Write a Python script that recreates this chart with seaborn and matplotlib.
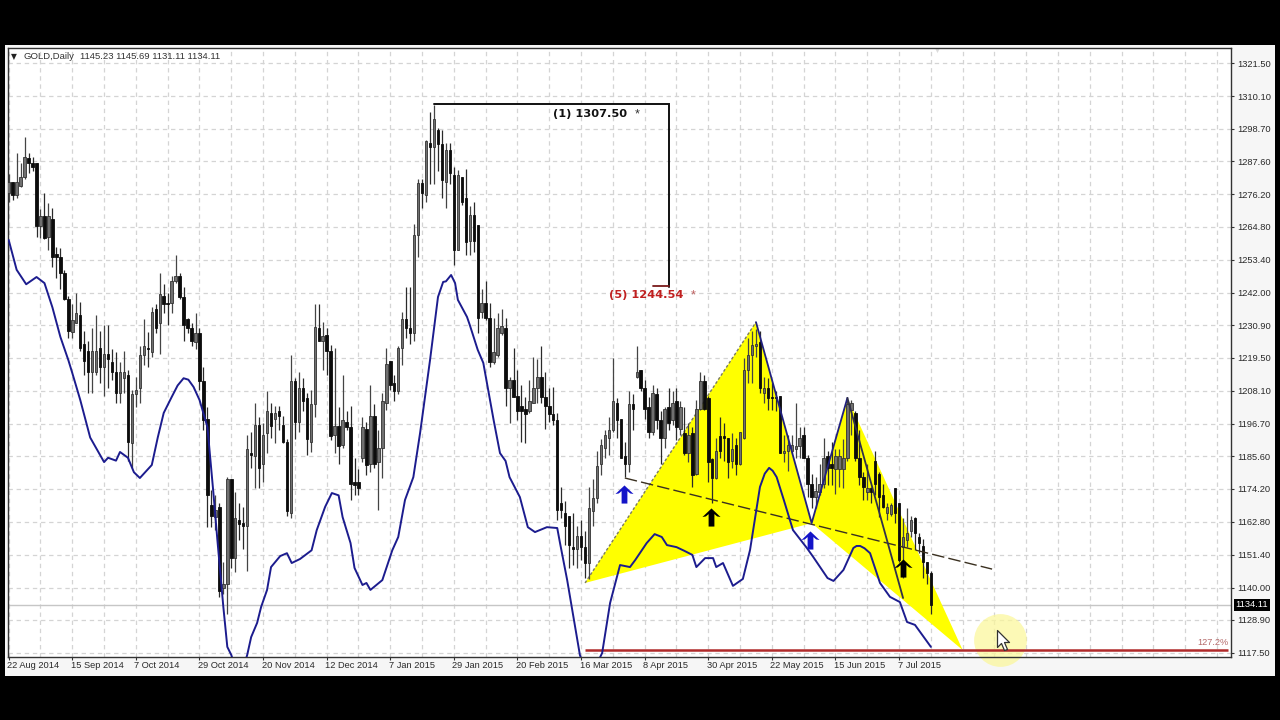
import numpy as np
import pandas as pd
import seaborn as sns
import matplotlib
matplotlib.use("Agg")
import matplotlib.pyplot as plt
from matplotlib.path import Path
from matplotlib.patches import Rectangle, Polygon
from matplotlib.transforms import ScaledTranslation

open_ = [
1276.5,1280.5,1276,1279,1282,1288.5,1287,1287,1265,1268.5,
1261.5,1267.5,1255.5,1254.5,1249,1240,1228.5,1231.5,1234.5,1224.5,
1222,1214.5,1214.5,1223,1216.5,1221,1218,1214.5,1207.5,1212.5,
1213.5,1190,1207,1209,1220.5,1223,1221.5,1236.5,1231.5,1241,
1238.5,1238.5,1246,1248,1240.5,1233,1230,1225,1228,1211.5,
1198.5,1168.5,1164.5,1168,1140,1141.5,1177.5,1150.5,1163.5,1162.5,
1161.5,1186.5,1185.5,1196.5,1183,1193.5,1200.5,1198.5,1201,1196.5,
1190.5,1166,1211.5,1197.5,1209,1205.5,1190.5,1203.5,1230,1225.5,
1227.5,1222,1193,1196,1189.5,1197.5,1195.5,1176.5,1176.5,1185,
1195,1183,1199.5,1183.5,1188.5,1204,1218.5,1211,1208,1223,
1233,1230,1228,1262,1280,1276,1294,1292.5,1298.5,1293.5,
1280.5,1291.5,1282.8,1257,1282,1275,1260,1269,1265.5,1235.5,
1238.5,1233.5,1218,1220.5,1228,1230,1209,1212,1206.5,1203,
1202,1201,1204,1209,1213,1206,1203,1200,1198,1169.5,
1166,1165,1154,1153.5,1158,1154,1148.5,1166.5,1171,1183,
1188.5,1192,1194.5,1204,1198.5,1185.5,1183,1203.5,1213,1215.5,
1209,1202.5,1194,1207,1198,1192,1202.5,1198,1204.5,1195,
1193.5,1186.5,1193.5,1179.5,1202,1211.5,1205.5,1184.5,1178,1192.5,
1192.5,1192,1184,1189.5,1183,1192,1215.5,1220.5,1223.5,1225,
1207.5,1209,1206,1206,1206.5,1186.5,1187.5,1187.5,1188,1189,
1193,1185,1176,1171.5,1173,1176,1185.5,1183,1181,1181,
1181,1185,1201.5,1200.5,1185,1178.5,1173,1174.5,1184,1179.5,
1172,1166,1165.5,1174.5,1169.5,1154,1156.5,1159.5,1164,1157.5,
1154.5,1149,1145.23]
high = [
1283,1280.5,1290.5,1287,1296,1290.5,1289,1287,1271,1276.5,
1273,1271.5,1258,1257.5,1250,1241,1238,1242,1239,1229,
1225.5,1230,1234.5,1229,1231,1231,1222.5,1221.5,1218,1222,
1215.5,1208.5,1213,1223.5,1233,1228.5,1237,1238,1249,1245,
1242,1248,1255,1249,1244,1233.5,1231.5,1235,1230,1216.5,
1202.5,1174,1172,1169.5,1149,1178.5,1177.5,1173,1169.5,1168,
1193,1194,1204,1199,1197,1208,1204,1203,1203,1199.5,
1191.5,1220.5,1212.5,1214.5,1212.5,1207.5,1208.5,1238,1238,1232,
1230,1224,1223,1202.5,1213.5,1201,1203,1185,1181,1199,
1197.5,1210,1203.5,1194.5,1207.5,1223,1218.5,1213.5,1223.5,1235.5,
1244,1244,1266,1281.5,1281.5,1295,1304.5,1307,1299,1298.5,
1294,1294,1285.5,1284.5,1282,1285,1272,1273.5,1265.5,1243.5,
1246,1238.5,1233.5,1235,1236.5,1233.5,1213,1223,1215.5,1210,
1206,1212,1220,1219,1223.5,1214.5,1209,1209.5,1200.5,1175,
1170,1165,1166,1161.5,1163.5,1159.5,1175,1177.5,1187.5,1191.5,
1194.5,1199,1219.5,1205.5,1198.5,1190.5,1208,1207,1223.5,1215.5,
1212,1206,1210,1209,1201,1202.5,1209,1208,1209,1204.5,
1202.5,1197,1195.5,1205,1214.5,1213.5,1206.5,1185,1192,1199,
1197,1192,1193.5,1192,1194,1219.5,1226.5,1229,1229.5,1229,
1213,1212.5,1211,1208,1206.5,1193,1193,1193,1204,1195.5,
1195.5,1186,1179.5,1178.5,1183,1192,1187.5,1190.5,1188,1188,
1191.5,1205,1205,1201,1194.5,1180,1183,1175,1187.5,1180,
1176,1169.5,1169.5,1174.5,1169.5,1164,1167.5,1165,1164.5,1159,
1157,1149,1145.69]
low = [
1273.5,1274,1275,1278.5,1281.5,1283.5,1284,1261.5,1261,1260.5,
1257,1251,1247,1243.5,1239.5,1226.5,1226.5,1231.5,1222,1213.5,
1207.5,1207.5,1213.5,1211,1206.5,1209,1212,1204,1204,1207.5,
1184,1181.5,1202.5,1204,1217,1216.5,1220,1228,1221,1235,
1231,1235,1245.5,1240,1225.5,1228,1223.5,1222.5,1208.5,1194.5,
1161,1161,1160,1137,1138,1131,1147,1145.5,1156.5,1153.5,
1146,1181.5,1174.5,1174.5,1176.5,1186.5,1192,1190,1194.5,1190,
1165,1164,1191.5,1194,1201,1186,1187,1199,1225.5,1215.5,
1213.5,1191,1186.5,1183,1188.5,1194.5,1170.5,1172,1172,1183.5,
1179,1180,1181.5,1167,1178,1201.5,1208.5,1204.5,1207,1217,
1226.5,1224.5,1225.5,1254.5,1271.5,1273.5,1279.5,1279.5,1284,1275,
1271.5,1279.5,1251.5,1257,1272.5,1255,1255,1256,1228,1233.5,
1232.5,1216.5,1217.5,1220,1227.5,1203,1197,1206,1198,1190.5,
1190,1200.5,1204,1204,1204,1195,1197.5,1196.5,1163.5,1164,
1155,1147,1148,1147,1149.5,1143.5,1143,1161.5,1169.5,1179,
1185,1186,1194,1192,1185,1178.5,1180,1194.5,1212.5,1208,
1198.5,1192,1193,1195,1183,1188.5,1194.5,1196.5,1191,1193,
1186,1183.5,1175,1179,1201.5,1201.5,1176.5,1169.5,1177.5,1185,
1184,1178,1181.5,1179,1182.5,1191.5,1211,1211,1220,1207.5,
1204,1201.5,1201.5,1201,1186.5,1183.5,1180.5,1186.5,1185,1185,
1185,1171.5,1167.5,1167.5,1172,1174.5,1175.5,1175.5,1172.5,1175,
1174.5,1184,1193,1184,1175.5,1170.5,1170.5,1169.5,1172,1164.5,
1167.5,1163.5,1165,1162.5,1149,1143.5,1154,1157.5,1153,1152,
1143.5,1141.5,1131.11]
close = [
1280.5,1276,1280.5,1282,1289,1287,1285.5,1265,1268.5,1261,
1268.5,1254.5,1254.5,1249,1240,1229,1232.5,1235,1223,1218.5,
1214.5,1222,1222,1216.5,1221,1219,1214.5,1207.5,1214.5,1214.5,
1190.5,1207,1208.5,1220.5,1223.5,1222.5,1235.5,1230,1241.5,1238,
1238,1246,1248,1240.5,1231,1230,1225.5,1228,1211.5,1198,
1172,1165,1167,1139,1141.5,1177.5,1150.5,1164,1162,1161.5,
1188,1186,1196.5,1181.5,1193,1201,1196,1200.5,1199.5,1190.5,
1166.5,1211.5,1197.5,1209,1204.5,1191.5,1203.5,1230.2,1225.5,1227,
1222,1192.5,1196,1189,1198,1195.5,1176,1175.5,1174.5,1195.5,
1182.5,1199.5,1183,1188.5,1204.5,1217.5,1210,1208,1223,1233,
1230,1228,1262,1280,1276.5,1294.5,1292.5,1302,1293.5,1281,
1291.5,1283.5,1257,1282.8,1273.5,1259.5,1269,1260,1233.5,1238.5,
1233.5,1218,1221.5,1230,1230.5,1209,1212,1206,1201,1201,
1200,1204.5,1209,1213,1206,1203,1200,1198,1167,1167,
1161.5,1155,1153.5,1158,1154,1148.5,1167.5,1171,1182,1189.5,
1193,1194.5,1204.5,1198,1185,1183,1203.5,1202,1214.5,1209,
1202,1194,1207.5,1198,1192,1202,1197,1204,1195.5,1202.5,
1186.5,1193,1179,1202,1211.5,1202,1183.5,1178,1187.5,1187.5,
1192,1183.5,1188,1183,1194,1215.5,1220.5,1224,1224.5,1209,
1209,1205.5,1205.5,1205.5,1186.5,1187.5,1189.5,1189.5,1189,1192,
1185,1176,1171.5,1173.5,1176,1185,1181.5,1181.5,1185.5,1185.5,
1185,1203.5,1204,1185,1178.5,1175,1174.5,1173,1176,1171.5,
1168,1168,1168.5,1166,1149.5,1157.5,1159,1163.5,1159,1155.5,
1149,1145,1134.11]

ma_bar = [0,2,4.4,7,9,11,13,15,16,18,20.5,24,25,27,28,30,31.5,33,36,37.5,39,41,42.5,44,45.2,46.5,48,50,51.5,52.5,54,55,56,58,60,
61,62.5,63.5,65,66,68.3,70,71.2,73.3,76.2,77.5,79.6,81.3,83,84,86,87,89,90,91,94,96.5,98,99.7,101.8,103.5,106,108,109.3,
110,111.3,112.3,113,115.3,116,118,119.4,120.3,122,123.6,125,126,128.6,130.6,132.4,135.4,138,138.7,140.5,143.7,146,149.3,
151.3,153.8,156.3,157.6,160.5,162.5,164.3,165.6,168,170,172,173,175.2,177.2,178,179.7,182.2,184.7,186.5,189,190.2,191.3,192.2,193.2,
195,197.3,200.8,202.4,206,207.5,210,212.5,213.3,214.2,215.3,216.7,219.2,221.7,224.2,226,228,232]
ma_val = [1260.3,1250,1245,1247.5,1245.4,1237,1226.8,1218.8,1214.3,1205,1192,1183.5,1185,1184,1187,1185,1180,1178,1182.5,1192,1200.5,1206,1210,1212.5,1212,1209.5,1205,1195.6,1172.8,1156.6,1133.4,1119.6,1116.8,1108,1116.8,
1123,1127.9,1133.4,1139.3,1147.2,1151,1152,1148.6,1150,1153,1160,1168,1172.8,1172,1164.5,1155.5,1146.9,1141,1141.7,1139.3,1142.7,1153,1157.6,1170.4,1178.3,1193.6,1218.8,1240.6,1245.8,
1246,1248.2,1245.4,1239.6,1233.7,1230.9,1222.3,1217.8,1210.9,1198,1186.6,1183.9,1178.3,1171.4,1161,1159.3,1161,1160.7,1155.5,1142.7,1116.8,1108,1117.5,
1134.8,1147.9,1147.2,1149.6,1155.5,1158.6,1157.6,1154.8,1154.1,1152.8,1151.4,1147.2,1150.3,1150.3,1147.2,1148.6,1140.7,1143.1,1153.1,1174.9,1179.5,1181.5,1180.5,1178.3,
1170.4,1160,1153.8,1150.7,1143.4,1142.4,1146.2,1153.8,1154.5,1154.5,1153.7,1152,1141.7,1136.9,1135.1,1128.2,1127.2,1119.6]

y_ticks = [1321.50,1310.10,1298.70,1287.60,1276.20,1264.80,1253.40,1242.00,1230.90,1219.50,
           1208.10,1196.70,1185.60,1174.20,1162.80,1151.40,1140.00,1128.90,1117.50]
x_labels = ["22 Aug 2014","15 Sep 2014","7 Oct 2014","29 Oct 2014","20 Nov 2014","12 Dec 2014","7 Jan 2015",
            "29 Jan 2015","20 Feb 2015","16 Mar 2015","8 Apr 2015","30 Apr 2015","22 May 2015","15 Jun 2015","7 Jul 2015"]

# harmonic pattern pivots (bar, price): X, A, B, C, D, and the end of the C leg
pat_x = (145, 1141.7)
pat_a = (188, 1231.9)
pat_b = (202, 1162.4)
pat_c = (211, 1205.7)
pat_d = (240, 1118.5)
pat_e = (225, 1136.5)
trend_bar = [155, 247.4]
trend_price = [1178, 1146.5]
fib_level = 1118.5
fib_start = 145
last_price = 1134.11
blue_arrow_bar = [154.8, 201.6]
blue_arrow_price = [1172.5, 1156.6]
black_arrow_bar = [176.7, 225]
black_arrow_price = [1164.5, 1146.9]
bracket_bar = [107, 166, 166]
bracket_price = [1307.3, 1307.3, 1244.0]
red_tick_bar = [162, 166]
red_tick_price = [1244.4, 1244.4]

sns.set_theme(style="white")
plt.rcParams["font.family"] = ["Liberation Sans", "DejaVu Sans"]

W, H = 1280, 720
fig = plt.figure(figsize=(W / 100, H / 100), dpi=100, facecolor="#000000")
fig.patches.append(Rectangle((5 / W, (H - 676) / H), 1270 / W, 631 / H, transform=fig.transFigure,
                             facecolor="#f6f6f6", edgecolor="none", zorder=-5))
L, R, T, B = 7.5, 1231, 48, 657
ax = fig.add_axes([L / W, (H - B) / H, (R - L) / W, (B - T) / H], facecolor="white")
ax.set_xlim(-0.3, 307.5)
ax.set_ylim(1116.1, 1326.7)

grid_kw = dict(color="#d4d4d4", lw=0.9, ls=(0, (3.5, 3)), zorder=0)
for b in range(0, 308, 8):
    ax.axvline(b, **grid_kw)
for v in y_ticks:
    ax.axhline(v, **grid_kw)

ax.axhline(last_price, color="#c6c6c6", lw=1.0, zorder=1)

# harmonic triangles
ax.add_patch(Polygon([pat_x, pat_a, pat_b], closed=True, fc="#ffff00", ec="none", zorder=1.5))
ax.add_patch(Polygon([pat_b, pat_c, pat_d], closed=True, fc="#ffff00", ec="none", zorder=1.5))

# candles
bars = np.arange(len(open_))
o, h, l, c = map(np.array, (open_, high, low, close))
up = c >= o
ax.vlines(bars[up], l[up], h[up], color="#444444", lw=0.9, zorder=3)
ax.vlines(bars[~up], l[~up], h[~up], color="#2a2a2a", lw=0.9, zorder=3)
ax.bar(bars[up], (c - o)[up], bottom=o[up], width=0.62, color="#707070", edgecolor="#333333", lw=0.6, zorder=3.2)
ax.bar(bars[~up], (c - o)[~up], bottom=o[~up], width=0.62, color="#0c0c0c", edgecolor="#0c0c0c", lw=0.6, zorder=3.4)

# moving average
ma = pd.DataFrame({"bar": ma_bar, "value": ma_val})
sns.lineplot(data=ma, x="bar", y="value", ax=ax, color="#1c1c8e", lw=1.4, estimator=None, sort=False,
             legend=False, zorder=4)

# pattern legs
ax.plot(*zip(pat_x, pat_a), color="#7a7a60", lw=1.0, ls=(0, (2, 1.5)), zorder=2.5)
ax.plot(*zip(pat_a, pat_b, pat_c), color="#20207f", lw=1.3, zorder=4)
ax.plot(*zip(pat_c, pat_e), color="#30304a", lw=1.3, zorder=4)
ax.plot(trend_bar, trend_price, color="#3a3020", lw=1.0, ls=(0, (9, 3)), zorder=3.6)

# fib line
ax.plot([fib_start, 306.8], [fib_level, fib_level], color="#b02a2a", lw=1.8, zorder=2.5, solid_capstyle="butt")
ax.text(306.8, fib_level + 0.9, "127.2%", color="#b46a6a", fontsize=6.6, ha="right", va="bottom", zorder=5)

# arrows
arrow = Path([(0, 1), (1, 0.05), (0.62, 0.12), (0.32, 0.38), (0.32, -1), (-0.32, -1), (-0.32, 0.38),
              (-0.62, 0.12), (-1, 0.05), (0, 1)], closed=True)
ax.scatter(blue_arrow_bar, blue_arrow_price, marker=arrow, s=170, color="#1414c8", linewidths=0, zorder=6)
ax.scatter(black_arrow_bar, black_arrow_price, marker=arrow, s=170, color="#000000", linewidths=0, zorder=6)

# wave bracket
ax.plot(bracket_bar, bracket_price, color="#111111", lw=1.4, zorder=5, solid_joinstyle="miter")
ax.plot(red_tick_bar, red_tick_price, color="#7a1a1a", lw=1.3, zorder=5)
ax.text(136.9, 1304.0, "(1) 1307.50", color="#111111", fontsize=8.2, fontweight="bold", family="DejaVu Sans",
        va="center", ha="left", zorder=6)
ax.text(158.1, 1303.8, "*", color="#333333", fontsize=9, va="center", ha="center", zorder=6)
ax.text(151, 1241.4, "(5) 1244.54", color="#c02020", fontsize=8.2, fontweight="bold", family="DejaVu Sans",
        va="center", ha="left", zorder=6)
ax.text(172.2, 1241.2, "*", color="#c06060", fontsize=9, va="center", ha="center", zorder=6)

# header
ax.text(0.7, 1323.7, "▼", fontsize=5.5, color="#222222", va="center", ha="left", zorder=6, family="DejaVu Sans")
ax.text(3.7, 1323.7, "GOLD,Daily", fontsize=6.8, color="#333333", va="center", ha="left", zorder=6)
ax.text(18.0, 1323.7, "1145.23 1145.69 1131.11 1134.11", fontsize=6.8, color="#333333", va="center", ha="left", zorder=6)

# small shift marker and mouse cursor with highlight
ax.scatter([233.5], [1326], marker="v", s=14, color="#dcdcdc", linewidths=0, zorder=2)
ax.scatter([249.4], [1122], s=1444, color="#fbf79a", alpha=0.72, linewidths=0, zorder=2.2, clip_on=False)
cursor = Path([(-6, 10), (-6, -7), (-2, -3), (1, -10), (4, -9), (1, -2), (6, -2), (-6, 10)], closed=True)
ax.scatter([250.1], [1122], marker=cursor, s=207, facecolor="#ffffff", edgecolor="#333333", linewidths=0.9,
           zorder=7, clip_on=False)

# axes furniture
ax.yaxis.tick_right()
ax.set_yticks(y_ticks)
ax.set_yticklabels([f"{v:.2f}" for v in y_ticks])
ax.tick_params(axis="y", length=2, width=0.8, color="#333333", pad=2.4, labelsize=6.7, labelcolor="#2a2a2a",
               right=True, left=False)
ax.set_xticks(np.arange(len(x_labels)) * 16)
ax.set_xticklabels(x_labels, ha="left")
ax.tick_params(axis="x", length=2, width=0.8, color="#333333", pad=1.0, labelsize=6.7, labelcolor="#2a2a2a",
               bottom=True)
shift = ScaledTranslation(-1.5 / 100, 0, fig.dpi_scale_trans)
for t in ax.get_xticklabels():
    t.set_transform(t.get_transform() + shift)
for s in ax.spines.values():
    s.set_color("#333333")
    s.set_linewidth(1.0)
ax.set_xlabel("")
ax.set_ylabel("")
ax.text(1.0035, last_price, "1134.11", transform=ax.get_yaxis_transform(), fontsize=6.7, color="white",
        va="center", ha="left", zorder=8,
        bbox=dict(boxstyle="square,pad=0.18", fc="black", ec="none"), clip_on=False)

assert len(open_) == len(high) == len(low) == len(close) and len(ma_bar) == len(ma_val)
fig.savefig("out.png", dpi=100, facecolor=fig.get_facecolor())
